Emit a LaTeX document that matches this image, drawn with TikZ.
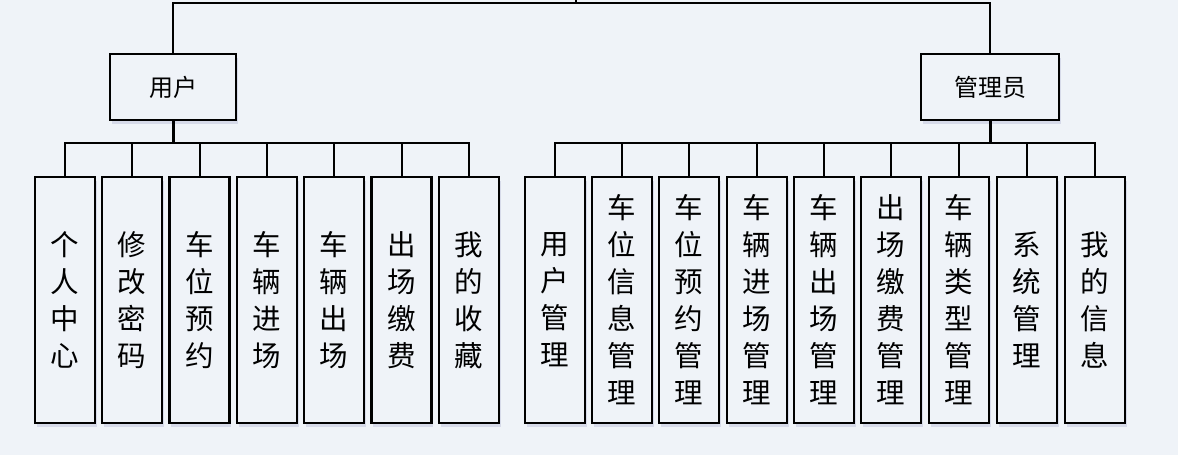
\documentclass[tikz,border=0pt]{standalone}
\usepackage{fontspec}
\newfontfamily\cjk{Noto Sans CJK SC}
\usetikzlibrary{shadows}
\definecolor{bg}{RGB}{239,243,248}
\tikzset{
  x=1pt, y=-1pt,
  box/.style={draw=black, line width=2.2pt, fill=bg, inner sep=0pt,
    drop shadow={opacity=0.10, shadow xshift=1.5pt, shadow yshift=-4pt, fill=black!60!blue}},
  top/.style={box, minimum width=126pt, minimum height=66pt, font=\cjk\fontsize{24}{28}\selectfont},
  leaf/.style={box, minimum width=60pt, minimum height=246pt, align=center,
    font=\cjk\fontsize{28.5}{37}\selectfont},
  conn/.style={line width=2pt, draw=black},
  trunk/.style={line width=3pt, draw=black}
}
\begin{document}
\begin{tikzpicture}
\fill[bg] (0,0) rectangle (1178,455);
\useasboundingbox (0,0) rectangle (1178,455);
% top-level
\node[top] (user) at (173,87) {用户};
\node[top, minimum width=138pt] (admin) at (990,87) {管理员};
\coordinate (hub) at (576,3);
\coordinate (root) at (576,-6);
\draw[conn] (user.north) |- (hub) -| (admin.north);
\draw[conn] (hub) -- (root);
% user leaves
\node[leaf] (u1) at (65,300) {个\\人\\中\\心};
\node[leaf] (u2) at (132,300) {修\\改\\密\\码};
\node[leaf] (u3) at (199.5,300) {车\\位\\预\\约};
\node[leaf] (u4) at (267,300) {车\\辆\\进\\场};
\node[leaf] (u5) at (334,300) {车\\辆\\出\\场};
\node[leaf] (u6) at (401.5,300) {出\\场\\缴\\费};
\node[leaf] (u7) at (469,300) {我\\的\\收\\藏};
% admin leaves
\node[leaf] (a1) at (555,300) {用\\户\\管\\理};
\node[leaf] (a2) at (622,300) {车\\位\\信\\息\\管\\理};
\node[leaf] (a3) at (689,300) {车\\位\\预\\约\\管\\理};
\node[leaf] (a4) at (757,300) {车\\辆\\进\\场\\管\\理};
\node[leaf] (a5) at (824,300) {车\\辆\\出\\场\\管\\理};
\node[leaf] (a6) at (891,300) {出\\场\\缴\\费\\管\\理};
\node[leaf] (a7) at (959,300) {车\\辆\\类\\型\\管\\理};
\node[leaf] (a8) at (1027,300) {系\\统\\管\\理};
\node[leaf] (a9) at (1095,300) {我\\的\\信\\息};
% connectors
\coordinate (ubus) at (173,143);
\coordinate (abus) at (990,143);
\draw[trunk] (user.south) -- (ubus);
\draw[trunk] (admin.south) -- (abus);
\foreach \n in {u1,u2,u3,u4,u5,u6,u7}
  \draw[conn] (ubus) -| (\n.north);
\foreach \n in {a1,a2,a3,a4,a5,a6,a7,a8,a9}
  \draw[conn] (abus) -| (\n.north);
\end{tikzpicture}
\end{document}
